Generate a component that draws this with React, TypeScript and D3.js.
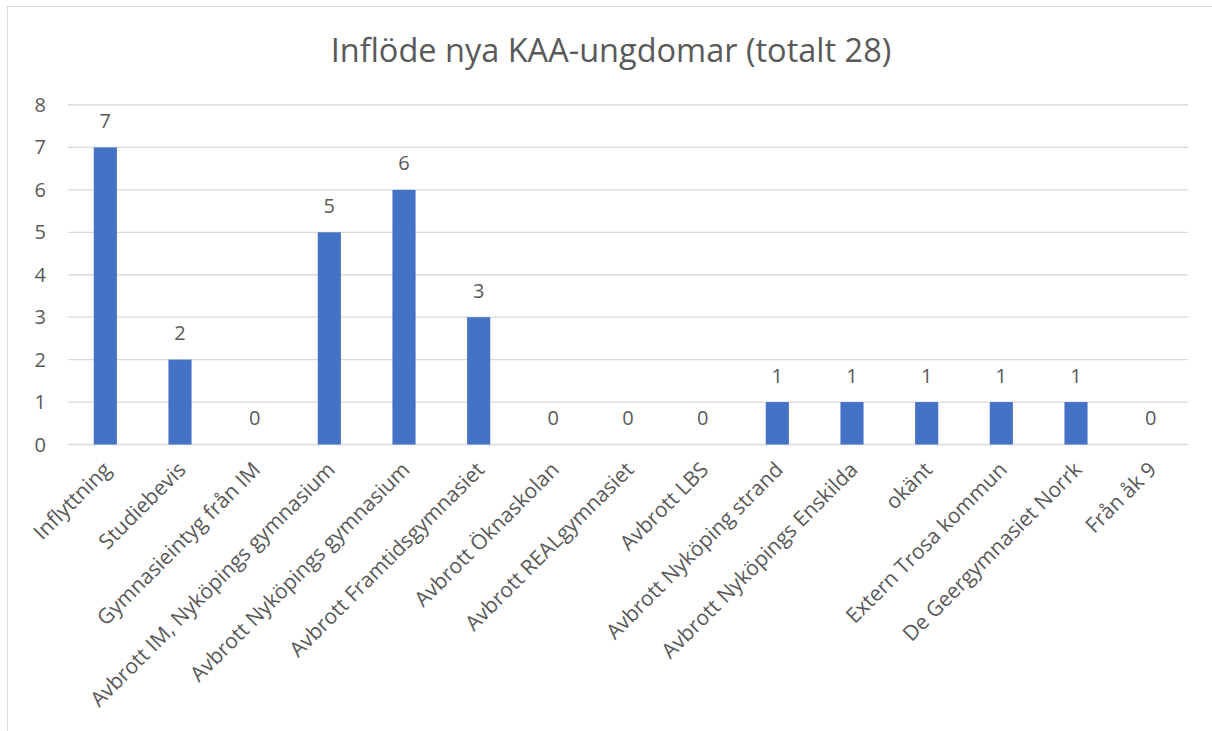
import React from "react";
import * as d3 from "d3";

const categories = [
  "Inflyttning",
  "Studiebevis",
  "Gymnasieintyg från IM",
  "Avbrott IM, Nyköpings gymnasium",
  "Avbrott Nyköpings gymnasium",
  "Avbrott Framtidsgymnasiet",
  "Avbrott Öknaskolan",
  "Avbrott REALgymnasiet",
  "Avbrott LBS",
  "Avbrott Nyköping strand",
  "Avbrott Nyköpings Enskilda",
  "okänt",
  "Extern Trosa kommun",
  "De Geergymnasiet Norrk",
  "Från åk 9",
];
const values = [7, 2, 0, 5, 6, 3, 0, 0, 0, 1, 1, 1, 1, 1, 0];
const yTicks = [0, 1, 2, 3, 4, 5, 6, 7, 8];
const title = "Inflöde nya KAA-ungdomar (totalt 28)";

const W = 1212;
const H = 731;
const FONT = "'Open Sans', 'Noto Sans', sans-serif";
const TEXT = "#595959";

export default function App() {
  const x = d3
    .scaleBand<string>()
    .domain(categories)
    .range([68, 1188])
    .paddingInner(0.69)
    .paddingOuter(0.345);
  const y = d3.scaleLinear().domain([0, 8]).range([444.5, 105]);

  return (
    <svg
      width={W}
      height={H}
      style={{ position: "absolute", left: 0, top: 0, background: "#fff" }}
    >
      <rect x={0} y={0} width={W} height={H} fill="#fff" />
      <rect
        x={7.5}
        y={6.5}
        width={W + 20}
        height={H + 20}
        fill="none"
        stroke="#d9d9d9"
        strokeWidth={1}
      />
      <text
        x={611}
        y={62}
        textAnchor="middle"
        fontFamily={FONT}
        fontSize={32.5}
        fill={TEXT}
      >
        {title}
      </text>
      {yTicks.map((t) => (
        <g key={t}>
          <line
            x1={68}
            x2={1188}
            y1={y(t)}
            y2={y(t)}
            stroke="#d9d9d9"
            strokeWidth={1.3}
          />
          <text
            x={46}
            y={y(t)}
            dy="0.35em"
            textAnchor="end"
            fontFamily={FONT}
            fontSize={20}
            fill={TEXT}
          >
            {t}
          </text>
        </g>
      ))}
      {categories.map((c, i) => {
        const bx = x(c)!;
        const cx = bx + x.bandwidth() / 2;
        const v = values[i];
        return (
          <g key={c}>
            {v > 0 && (
              <rect
                x={bx}
                y={y(v)}
                width={x.bandwidth()}
                height={y(0) - y(v)}
                fill="#4472C4"
              />
            )}
            <text
              x={cx}
              y={y(v) - 19.5}
              textAnchor="middle"
              fontFamily={FONT}
              fontSize={20}
              fill={TEXT}
            >
              {v}
            </text>
            <text
              transform={`translate(${cx + 7},${471}) rotate(-45)`}
              textAnchor="end"
              fontFamily={FONT}
              fontSize={21}
              fill={TEXT}
            >
              {c}
            </text>
          </g>
        );
      })}
    </svg>
  );
}
